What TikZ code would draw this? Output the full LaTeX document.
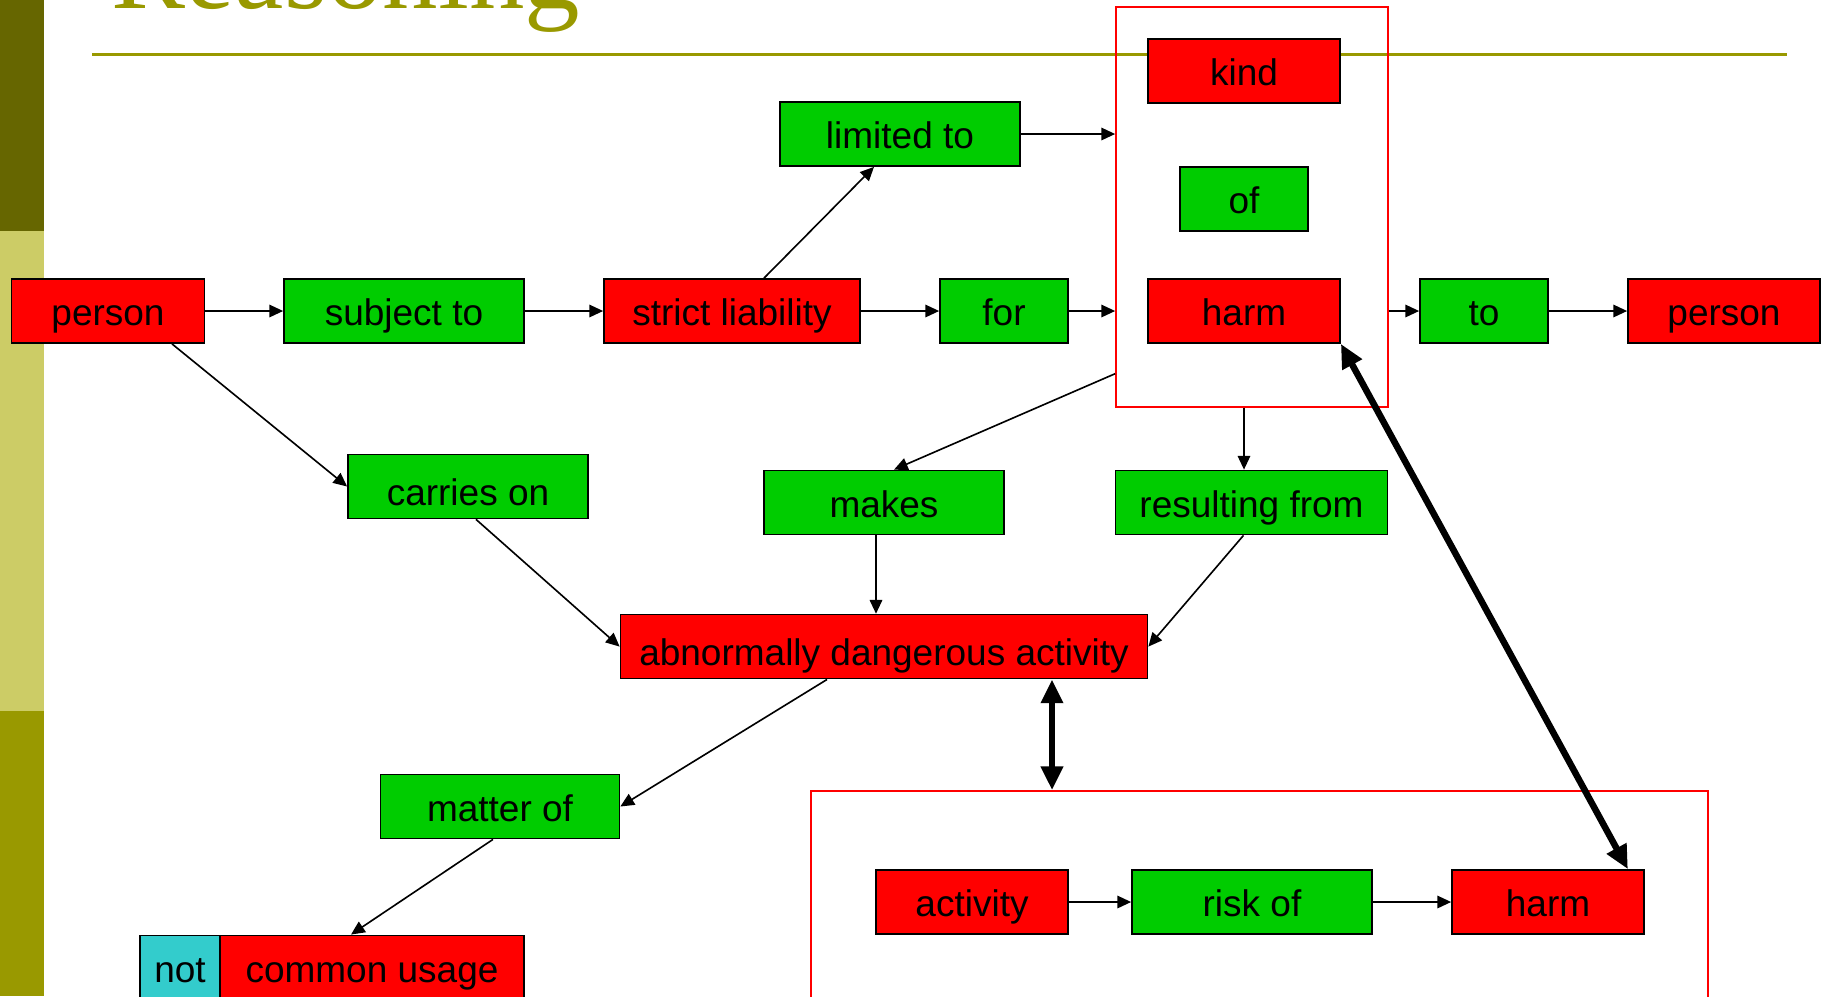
\documentclass[tikz,border=0pt]{standalone}
\usepackage{fontspec}
\setmainfont{Liberation Sans}
\newfontfamily\titlefont{Liberation Serif}
\usetikzlibrary{arrows.meta,calc}
\definecolor{boxred}{HTML}{FF0000}
\definecolor{boxgreen}{HTML}{00CC00}
\definecolor{boxcyan}{HTML}{33CCCC}
\definecolor{titleolive}{HTML}{999900}
\definecolor{bardark}{HTML}{666600}
\definecolor{barlight}{HTML}{CCCC66}
\begin{document}
\begin{tikzpicture}[x=0.4pt,y=-0.4pt,
  concept/.style={draw=black,line width=0.7pt,minimum height=25.6pt,inner sep=0pt,
    text height=12.6pt,text depth=0.8pt,font=\fontsize{14.8}{17}\selectfont,text=black},
  lowtext/.style={text height=15.8pt},
  rbox/.style={concept,fill=boxred},
  gbox/.style={concept,fill=boxgreen},
  cbox/.style={concept,fill=boxcyan},
  bw/.style={minimum width=#1*0.4pt},
  bh/.style={minimum height=#1*0.4pt},
  link/.style={line width=0.65pt,-{Triangle[length=5.5pt,width=5pt]}},
  biglink/.style={line width=2.6pt,{Triangle[length=9.5pt,width=8.5pt]}-{Triangle[length=9.5pt,width=8.5pt]}},
  groupframe/.style={draw=boxred,line width=0.7pt,inner sep=0pt}
]
\useasboundingbox (0,0) rectangle (1822,996);
\clip (0,0) rectangle (1822,996);

% side bar
\fill[bardark] (0,0) rectangle (44,231);
\fill[barlight] (0,231) rectangle (44,711);
\fill[titleolive] (0,711) rectangle (44,996);

% title and rule
\node[anchor=base west,inner sep=0pt,text=titleolive,
  font=\titlefont\fontsize{44.4}{50}\selectfont] (title) at (111,8.5) {Reasoning};
\draw[titleolive,line width=1.5pt] (92,54.6) -- (1787,54.6);

% grouping frames
\node[groupframe,bw=272,bh=400] (fr1) at (1252,206.7) {};
\node[groupframe,bw=897,bh=269] (fr2) at (1259.5,925.5) {};

% top row
\node[rbox,bw=193] (p1) at (108,311) {person};
\node[gbox,bw=240] (subj) at (404,311) {subject to};
\node[rbox,bw=256] (strict) at (732,311) {strict liability};
\node[gbox,bw=128] (for) at (1004,311) {for};
\node[rbox,bw=192] (kind) at (1244,71) {kind};
\node[gbox,bw=128] (of) at (1244,198.7) {of};
\node[rbox,bw=192] (harm1) at (1244,311) {harm};
\node[gbox,bw=128] (to) at (1484,311) {to};
\node[rbox,bw=192] (p2) at (1724,311) {person};
\node[gbox,bw=240] (limited) at (900,134) {limited to};

% middle
\node[gbox,lowtext,bw=240] (carries) at (468,486.5) {carries on};
\node[gbox,bw=240] (makes) at (884,502.5) {makes};
\node[gbox,bw=272] (resulting) at (1251.5,502.5) {resulting from};
\node[rbox,lowtext,bw=527] (abn) at (884,646.6) {abnormally dangerous activity};
\node[gbox,bw=239] (matter) at (500,806.5) {matter of};
\node[cbox,bw=80] (not) at (180,967.4) {not};
\node[rbox,bw=304] (common) at (372,967.4) {common usage};

% lower group
\node[rbox,bw=192] (act) at (972,902) {activity};
\node[gbox,bw=240] (risk) at (1252,902) {risk of};
\node[rbox,bw=192] (harm2) at (1548,902) {harm};

% connectors
\draw[link] (p1) -- (subj);
\draw[link] (subj) -- (strict);
\draw[link] (strict) -- (for);
\draw[link] (for.east) -- (for.east -| fr1.west);
\draw[link] ($(strict.north)+(32,0)$) -- ($(limited.south)+(-26,0)$);
\draw[link] (limited.east) -- (limited.east -| fr1.west);
\draw[link] (to.west -| fr1.east) -- (to.west);
\draw[link] (to) -- (p2);
\draw[link] ($(p1.south)+(64,0)$) -- (carries.west);
\draw[link] ($(fr1.west)+(0,167)$) -- ($(makes.north)+(10,0)$);
\draw[link] (harm1.center |- fr1.south) -- (harm1.center |- resulting.north);
\draw[link] ($(carries.south)+(8,0)$) -- (abn.west);
\draw[link] ($(makes.south)+(-8,0)$) -- ($(abn.north)+(-8,0)$);
\draw[link] ($(resulting.south)+(-8,0)$) -- (abn.east);
\draw[link] ($(abn.south)+(-57,0)$) -- (matter.east);
\draw[link] ($(matter.south)+(-7,0)$) -- ($(common.north)+(-21,0)$);
\draw[link] (act) -- (risk);
\draw[link] (risk) -- (harm2);

\coordinate (dd) at ($(abn.south)+(168,0)$);
\draw[biglink] (dd) -- (dd |- fr2.north);
\draw[biglink] (harm1.south east) -- ($(harm2.north east)+(-17,0)$);
\end{tikzpicture}
\end{document}
